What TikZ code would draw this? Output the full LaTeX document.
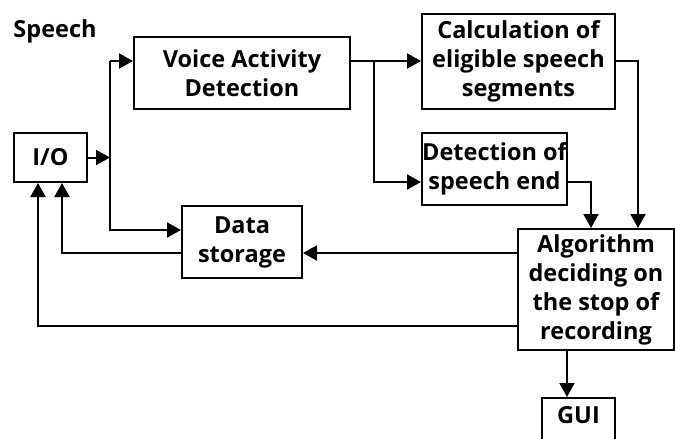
\documentclass[tikz,border=0pt]{standalone}
\usepackage{fontspec}
\setmainfont{Open Sans}
\usetikzlibrary{arrows.meta}
\begin{document}
\begin{tikzpicture}[x=1pt,y=-1pt,
  box/.style={draw, line width=2pt, align=center, inner sep=0pt,
    font=\bfseries\fontsize{23.5}{29}\selectfont},
  lbl/.style={inner sep=0pt, font=\bfseries\fontsize{23.5}{29}\selectfont},
  wire/.style={line width=2pt},
  arr/.style={wire, -{Triangle[length=14pt,width=15pt]}}]
\clip (0,0) rectangle (675,439);
\useasboundingbox (0,0) rectangle (675,439);
% blocks
\node[lbl] (speech) at (55,31) {Speech};
\node[box, minimum width=216pt, minimum height=72pt] (vad) at (242,73) {Voice Activity\\Detection};
\node[box, minimum width=193pt, minimum height=95pt] (calc) at (518.5,61.5) {Calculation of\\eligible speech\\segments};
\node[box, minimum width=145pt, minimum height=72pt] (det) at (494.5,169) {Detection of\\speech end};
\node[box, minimum width=73pt, minimum height=49pt] (io) at (50.5,157.5) {I/O};
\node[box, minimum width=120pt, minimum height=72pt] (ds) at (242,242) {Data\\storage};
\node[box, minimum width=156pt, minimum height=121pt] (alg) at (596,289.5) {Algorithm\\deciding on\\the stop of\\recording};
\node[box, minimum width=73pt, minimum height=56pt, anchor=north] (gui) at (578.5,397) {};
\node[lbl] (guitext) at ([yshift=-18pt]gui.north) {GUI};
% routing points
\coordinate (bt) at (110,61);
\coordinate (bm) at (110,157.5);
\coordinate (bb) at (110,230);
\coordinate (br) at (374,61);
\coordinate (dx) at (374,182);
\coordinate (c1) at (638,61);
\coordinate (d1) at (591,182);
\coordinate (y1) at (0,253);
\coordinate (f1) at (62,253);
\coordinate (f2) at (38,326);
\coordinate (g1) at (567,0);
% connectors
\draw[arr] (io.east) -- (bm);
\draw[arr] (bt) -- (vad.west |- bt);
\draw[arr] (bt) -- (bb) -- (ds.west |- bb);
\draw[arr] (vad.east |- bt) -- (calc.west |- bt);
\draw[arr] (br) -- (dx) -- (det.west |- dx);
\draw[arr] (calc.east |- c1) -- (c1) -- (c1 |- alg.north);
\draw[arr] (det.east |- d1) -- (d1) -- (d1 |- alg.north);
\draw[arr] (alg.west |- y1) -- (ds.east |- y1);
\draw[arr] (ds.west |- f1) -- (f1) -- (f1 |- io.south);
\draw[arr] (alg.west |- f2) -- (f2) -- (f2 |- io.south);
\draw[arr] (alg.south -| g1) -- (gui.north -| g1);
\end{tikzpicture}
\end{document}
